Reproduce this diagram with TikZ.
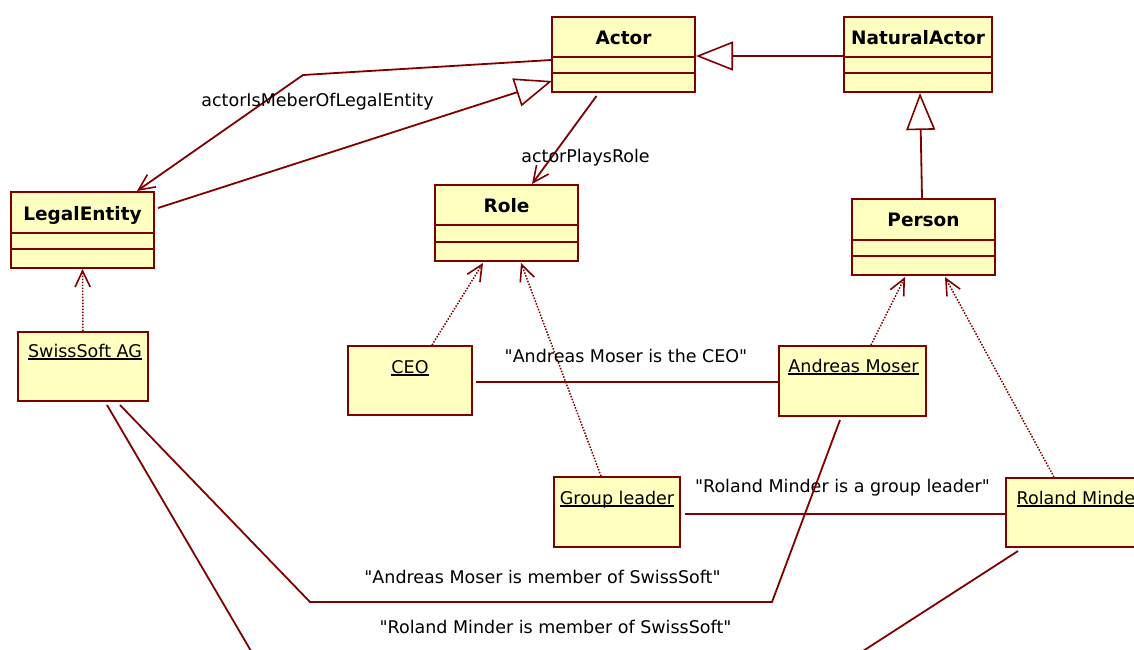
\documentclass[tikz,border=0pt]{standalone}
\usepackage{fontspec}
\setmainfont{DejaVu Sans}[Ligatures=TeXOff]
\usetikzlibrary{arrows.meta,calc}
\definecolor{umlline}{HTML}{800000}
\definecolor{umlfill}{HTML}{FFFFC0}
% underlined object name with a fixed rule below the baseline
\newcommand{\objname}[1]{\setbox0\hbox{#1}\rlap{\rule[-2.6pt]{\wd0}{1.2pt}}\box0}
\tikzset{
  umltext/.style={inner sep=0pt, anchor=base, text=black, font=\fontsize{17.5}{20}\selectfont},
  classtitle/.style={umltext, font=\fontsize{18.5}{21}\selectfont\bfseries},
  umlbox/.style={draw=umlline, fill=umlfill, line width=2pt, inner sep=0pt, anchor=north west},
  divider/.style={draw=umlline, line width=2pt},
  link/.style={draw=umlline, line width=1.8pt},
  inherits/.style={link, -{Triangle[length=37pt, width=29pt, fill=white, line width=1.6pt]}},
  navigable/.style={link, -{Straight Barb[length=16pt, width=15pt, line width=1.6pt]}},
  instanceof/.style={navigable, line width=1.5pt, dash pattern=on 1.5pt off 1.5pt},
}
\begin{document}
\begin{tikzpicture}[x=1pt,y=-1pt]
\useasboundingbox (0,0) rectangle (1134,649);
\fill[white] (0,0) rectangle (1134,649);
\clip (0,0) rectangle (1134,649);

% ---- classes ----
\node[umlbox, minimum width=143, minimum height=75] (actor)  at (551,16) {};
\node[umlbox, minimum width=148, minimum height=75] (natact) at (843,16) {};
\node[umlbox, minimum width=143, minimum height=76] (legal)  at (10,191) {};
\node[umlbox, minimum width=143, minimum height=76] (role)   at (434,184) {};
\node[umlbox, minimum width=143, minimum height=76] (person) at (851,198) {};

\foreach \c/\a/\b in {actor/41/57, natact/41/57, legal/42/58, role/41/58, person/42/58}{
  \draw[divider] ([yshift=-\a pt]\c.north west) -- ([yshift=-\a pt]\c.north east);
  \draw[divider] ([yshift=-\b pt]\c.north west) -- ([yshift=-\b pt]\c.north east);
}

\node[classtitle] (actor-title)  at ($(actor.north)+(0,28)$)  {Actor};
\node[classtitle] (natact-title) at ($(natact.north)+(0,28)$) {NaturalActor};
\node[classtitle] (legal-title)  at ($(legal.north)+(0,29)$)  {LegalEntity};
\node[classtitle] (role-title)   at ($(role.north)+(0,28)$)   {Role};
\node[classtitle] (person-title) at ($(person.north)+(0,28)$) {Person};

% ---- objects ----
\node[umlbox, minimum width=130, minimum height=69] (swiss) at (17,331) {};
\node[umlbox, minimum width=124, minimum height=69] (ceo)   at (347,345) {};
\node[umlbox, minimum width=147, minimum height=70] (am)    at (778,345) {};
\node[umlbox, minimum width=126, minimum height=70] (group) at (553,476) {};
\node[umlbox, minimum width=147, minimum height=69] (rm)    at (1005,477) {};

\node[umltext] (swiss-name) at ($(swiss.north)+(2,26)$) {\objname{SwissSoft AG}};
\node[umltext] (ceo-name)   at ($(ceo.north)+(0,28)$)   {\objname{CEO}};
\node[umltext] (am-name)    at ($(am.north)+(1,27)$)    {\objname{Andreas Moser}};
\node[umltext] (group-name) at ($(group.north)+(0,28)$) {\objname{Group leader}};
\node[umltext] (rm-name)    at ($(rm.north)+(0,27)$)    {\objname{Roland Minder}};

% ---- generalizations ----
\draw[inherits] ([yshift=-1.5pt]natact.west) -- ([yshift=-1.5pt]actor.east);
\draw[inherits] ([xshift=-1.5pt]person.north) -- ([xshift=2pt]natact.south);
\draw[inherits] ($(legal.east)+(3,-22)$) -- ($(actor.south west)+(1,-12)$);

% ---- navigable associations ----
\draw[navigable] ($(actor.west)+(0,5.5)$) -- (303,75) -- ($(legal.north west)+(127,0)$);
\node[umltext] (member-label) at (317.5,106) {actorIsMeberOfLegalEntity};
\draw[navigable] ($(actor.south)+(-27,3)$) -- ($(role.north west)+(98,0)$);
\node[umltext] (plays-label) at (585.5,162) {actorPlaysRole};

% ---- instance-of dependencies ----
\draw[instanceof] (swiss.north) -- (legal.south);
\draw[instanceof] ($(ceo.north)+(22,0)$) -- ($(role.south west)+(49,1)$);
\draw[instanceof] ($(group.north)+(-16,0)$) -- ($(role.south west)+(87,1)$);
\draw[instanceof] ($(am.north)+(18.5,0)$) -- ($(person.south west)+(54,1)$);
\draw[instanceof] ($(rm.north west)+(49,0)$) -- ($(person.south west)+(94,1)$);

% ---- links between objects ----
\draw[link] ($(ceo.east)+(3,1.5)$) -- ($(am.west)+(0,1)$);
\node[umltext] (ceo-label) at (626,362) {"Andreas Moser is the CEO"};

\draw[link] ($(group.east)+(4,2)$) -- ($(rm.west)+(0,1.5)$);
\node[umltext] (group-label) at (842.5,492) {"Roland Minder is a group leader"};

\draw[link] ($(am.south)+(-12.5,3)$) -- (772,602) -- (310,602) -- ($(swiss.south)+(37,3)$);
\node[umltext] (am-member-label) at (542.5,583) {"Andreas Moser is member of SwissSoft"};

\draw[link] ($(swiss.south)+(24,3)$) -- (268,680) -- (818,680) -- ($(rm.south west)+(13,3)$);
\node[umltext] (rm-member-label) at (555.5,633) {"Roland Minder is member of SwissSoft"};
\end{tikzpicture}
\end{document}
